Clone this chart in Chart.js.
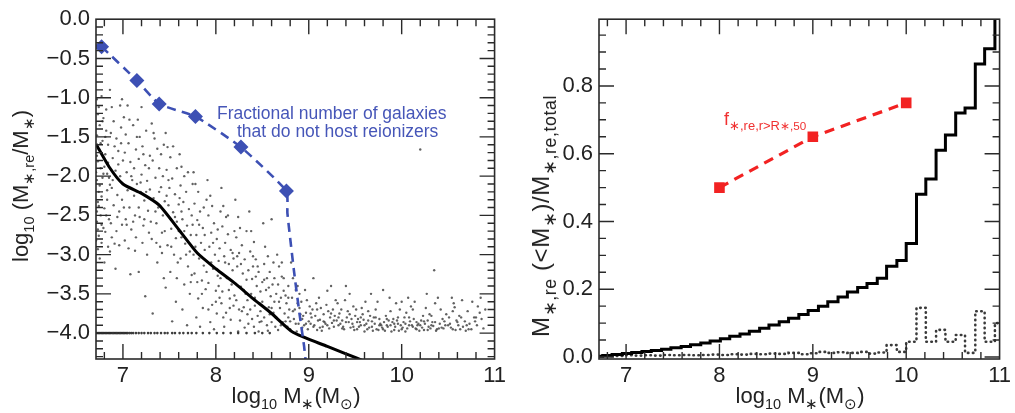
<!DOCTYPE html>
<html>
<head>
<meta charset="utf-8">
<script src="https://cdn.jsdelivr.net/npm/chart.js@4.4.1/dist/chart.umd.min.js"></script>
<style>
  html,body{margin:0;padding:0;background:#fff;}
  #wrap{position:relative;width:1015px;height:413px;overflow:hidden;font-family:'Liberation Sans',Arial,Helvetica,sans-serif;}
  canvas{position:absolute;top:0;}
  .t{position:absolute;white-space:nowrap;color:#222;line-height:1;}
  .sb{font-size:0.66em;position:relative;top:0.38em;}
  .rot{transform:translate(-50%,-50%) rotate(-90deg);transform-origin:center;}
  .ctr{transform:translate(-50%,-50%);}
</style>
</head>
<body>
<div id="wrap">
  <canvas id="left" width="510" height="413" style="left:0;width:510px;height:413px"></canvas>
  <canvas id="right" width="505" height="413" style="left:510px;width:505px;height:413px"></canvas>

  <div class="t rot" style="left:21px;top:186px;font-size:22px;">log<span class="sb">10</span> (M<span class="sb">∗,re</span>/M<span class="sb">∗</span>)</div>
  <div class="t ctr" style="left:296px;top:396px;font-size:22px;">log<span class="sb">10</span> M<span class="sb">∗</span>(M<span class="sb">⊙</span>)</div>
  <div class="t" style="left:217px;top:105px;font-size:17.5px;color:#4656b8;">Fractional number of galaxies</div>
  <div class="t" style="left:237px;top:123px;font-size:17.5px;color:#4656b8;">that do not host reionizers</div>

  <div class="t rot" style="left:541px;top:216px;font-size:24px;letter-spacing:0.6px;">M<span class="sb" style="font-size:0.74em">∗,re</span> (&lt;M<span class="sb" style="font-size:0.74em">∗</span>)/M<span class="sb" style="font-size:0.74em">∗,re,total</span></div>
  <div class="t ctr" style="left:800px;top:396px;font-size:22px;">log<span class="sb">10</span> M<span class="sb">∗</span>(M<span class="sb">⊙</span>)</div>
  <div class="t" style="left:724px;top:110px;font-size:18px;color:#f03030;">f<span class="sb" style="font-size:0.72em">∗,re,r&gt;R<span style="font-size:0.9em">∗,50</span></span></div>
</div>

<script>
// ---------------- DATA ----------------
const xTicks = [7, 8, 9, 10, 11];
const leftYTicks = [0, -0.5, -1, -1.5, -2, -2.5, -3, -3.5, -4];
const rightYTicks = [0, 0.2, 0.4, 0.6, 0.8];

// Left panel: fractional number of galaxies that do not host reionizers (blue dashed)
const fracX = [6.77, 7.15, 7.39, 7.78, 8.27, 8.76, 8.77, 8.84, 8.90, 8.95, 8.97];
const fracY = [-0.35, -0.78, -1.08, -1.24, -1.63, -2.19, -2.47, -3.20, -3.75, -4.17, -4.40];
const fracMarker = [true, true, true, true, true, true, false, false, false, false, false];

// Left panel: median relation (black solid)
const medX = [6.71, 6.85, 7.00, 7.20, 7.39, 7.60, 7.80, 8.00, 8.21, 8.40, 8.60, 8.83, 9.20, 9.52, 9.70];
const medY = [-1.59, -1.88, -2.10, -2.22, -2.37, -2.68, -2.98, -3.18, -3.37, -3.56, -3.75, -3.99, -4.17, -4.32, -4.41];

// Left panel: galaxies at the floor value log = -4.0
const floorY = -4.0;
const floorX = [6.72,6.735,6.75,6.765,6.78,6.795,6.81,6.825,6.84,6.855,6.87,6.885,6.9,6.915,6.93,6.945,6.96,6.975,6.99,7.005,7.02,7.035,7.05,7.07,7.09,7.11,
  7.14,7.17,7.2,7.23,7.27,7.3,7.34,7.37,7.41,7.45,7.48,7.53,7.56,7.61,7.65,7.7,7.74,7.79,7.86,7.93,8.01,8.08,8.16,8.24,8.33,8.42,8.5,8.58];

// Left panel: individual galaxies (gray dots)
const galaxies = [
[6.72,-1.02],[6.73,-1.21],[6.75,-1.35],[6.72,-1.48],[6.78,-1.55],[6.74,-1.66],[6.81,-1.72],[6.73,-1.81],[6.76,-1.9],[6.79,-1.97],[6.72,-2.05],[6.75,-2.12],[6.83,-2.18],[6.77,-2.26],[6.73,-2.33],[6.8,-2.41],[6.76,-2.5],[6.72,-2.58],[6.79,-2.66],[6.74,-2.76],[6.77,-2.85],[6.73,-2.93],[6.82,-1.42],[6.84,-1.6],[6.8,-1.88],[6.85,-2.02],[6.83,-2.3],[6.85,-2.55],[6.82,-1.15],[6.78,-1.3],[6.77,-0.98],[6.84,-1.83],[6.81,-2.71],[6.84,-2.9],[6.75,-3.05],[6.8,-3.1],[6.72,-1.74],[6.74,-2.2],[6.72,-2.45],[6.73,-2.68],
[6.86,-0.9],[6.88,-1.12],[6.9,-1.3],[6.87,-1.45],[6.93,-1.52],[6.95,-1.68],[6.89,-1.77],[6.92,-1.93],[6.97,-2.0],[6.88,-2.15],[6.94,-2.24],[6.9,-2.37],[6.96,-2.45],[6.87,-2.6],[6.93,-2.7],[6.99,-2.62],[6.91,-2.86],[6.98,-1.38],[6.95,-1.85],[6.99,-2.3],[6.86,-2.96],[6.97,-1.1],[6.92,-3.18],[6.99,-1.02],
[7.01,-1.25],[7.03,-1.47],[7.06,-1.58],[7.02,-1.7],[7.08,-1.82],[7.04,-1.95],[7.1,-2.05],[7.05,-2.18],[7.12,-2.25],[7.07,-2.4],[7.13,-2.5],[7.03,-2.55],[7.09,-2.68],[7.14,-2.78],[7.06,-2.92],[7.11,-1.35],[7.14,-1.66],[7.12,-1.9],[7.02,-2.82],[7.08,-3.25],[7.15,-2.1],[7.05,-1.1],
[7.16,-1.28],[7.18,-1.5],[7.21,-1.62],[7.17,-1.78],[7.24,-1.86],[7.2,-1.98],[7.26,-2.06],[7.19,-2.2],[7.23,-2.31],[7.27,-2.44],[7.18,-2.52],[7.22,-2.63],[7.28,-2.72],[7.25,-1.42],[7.29,-1.74],[7.21,-2.85],[7.26,-3.0],[7.17,-3.22],[7.24,-3.53],[7.29,-2.17],[7.2,-1.12],
[7.31,-1.33],[7.34,-1.52],[7.37,-1.65],[7.32,-1.8],[7.39,-1.9],[7.35,-2.02],[7.41,-2.14],[7.33,-2.28],[7.38,-2.4],[7.43,-2.5],[7.36,-2.6],[7.42,-2.72],[7.31,-2.8],[7.4,-2.9],[7.44,-1.6],[7.43,-2.0],[7.37,-3.1],[7.44,-3.3],[7.32,-3.75],[7.45,-2.32],
[7.46,-1.45],[7.48,-1.63],[7.51,-1.76],[7.47,-1.92],[7.53,-2.03],[7.5,-2.15],[7.56,-2.23],[7.49,-2.37],[7.54,-2.46],[7.58,-2.58],[7.52,-2.67],[7.57,-2.79],[7.48,-2.88],[7.55,-3.0],[7.59,-3.1],[7.51,-3.22],[7.58,-1.9],[7.6,-2.36],[7.46,-3.42],[7.57,-3.6],[7.53,-3.85],[7.6,-2.7],
[7.61,-1.72],[7.63,-1.88],[7.66,-2.0],[7.62,-2.12],[7.68,-2.2],[7.65,-2.33],[7.71,-2.42],[7.64,-2.55],[7.69,-2.63],[7.73,-2.75],[7.67,-2.86],[7.72,-2.96],[7.62,-3.05],[7.7,-3.15],[7.74,-3.26],[7.66,-3.38],[7.72,-3.5],[7.64,-3.7],[7.75,-2.1],[7.74,-2.5],[7.69,-3.9],[7.63,-2.78],
[7.76,-1.95],[7.78,-2.1],[7.81,-2.2],[7.77,-2.35],[7.83,-2.45],[7.8,-2.56],[7.86,-2.66],[7.79,-2.75],[7.84,-2.85],[7.88,-2.94],[7.82,-3.05],[7.87,-3.14],[7.77,-3.24],[7.85,-3.33],[7.89,-3.44],[7.81,-3.56],[7.86,-3.68],[7.79,-3.8],[7.9,-2.3],[7.88,-2.75],[7.83,-3.92],[7.76,-3.0],
[7.91,-2.05],[7.94,-2.25],[7.96,-2.38],[7.92,-2.5],[7.98,-2.6],[7.95,-2.72],[8.01,-2.8],[7.93,-2.9],[7.99,-3.0],[8.03,-3.08],[7.97,-3.18],[8.02,-3.27],[7.92,-3.36],[8.0,-3.46],[8.04,-3.55],[7.96,-3.64],[8.01,-3.75],[7.94,-3.86],[8.05,-2.45],[8.04,-2.92],[7.98,-3.95],[8.03,-3.4],
[8.06,-2.15],[8.08,-2.38],[8.11,-2.52],[8.07,-2.64],[8.13,-2.74],[8.1,-2.85],[8.16,-2.94],[8.09,-3.02],[8.14,-3.12],[8.18,-3.2],[8.12,-3.3],[8.17,-3.38],[8.07,-3.47],[8.15,-3.56],[8.19,-3.65],[8.11,-3.74],[8.16,-3.83],[8.09,-3.92],[8.2,-2.7],[8.19,-3.05],[8.14,-3.45],[8.06,-3.62],
[8.21,-2.3],[8.24,-2.52],[8.26,-2.66],[8.22,-2.78],[8.28,-2.88],[8.25,-2.98],[8.31,-3.06],[8.23,-3.15],[8.29,-3.24],[8.33,-3.32],[8.27,-3.41],[8.32,-3.5],[8.22,-3.58],[8.3,-3.67],[8.34,-3.76],[8.26,-3.84],[8.31,-3.93],[8.35,-3.2],[8.34,-3.58],[8.28,-3.72],[8.24,-3.98],
[8.36,-2.45],[8.38,-2.7],[8.41,-2.84],[8.37,-2.96],[8.43,-3.06],[8.4,-3.15],[8.46,-3.22],[8.39,-3.31],[8.44,-3.4],[8.48,-3.47],[8.42,-3.55],[8.47,-3.62],[8.37,-3.7],[8.45,-3.78],[8.49,-3.85],[8.41,-3.92],[8.5,-3.35],[8.48,-3.72],[8.43,-3.28],[8.39,-3.82],[8.46,-3.98],
[8.51,-2.6],[8.53,-2.9],[8.56,-3.02],[8.52,-3.12],[8.58,-3.22],[8.55,-3.3],[8.61,-3.38],[8.54,-3.45],[8.59,-3.53],[8.63,-3.6],[8.57,-3.67],[8.62,-3.74],[8.52,-3.8],[8.6,-3.86],[8.64,-3.92],[8.56,-3.97],[8.65,-3.5],[8.6,-2.55],[8.63,-3.3],[8.58,-3.76],
[8.66,-3.0],[8.68,-3.15],[8.71,-3.28],[8.67,-3.38],[8.73,-3.46],[8.7,-3.55],[8.76,-3.62],[8.69,-3.68],[8.74,-3.75],[8.78,-3.8],[8.72,-3.86],[8.77,-3.92],[8.67,-3.96],[8.75,-3.52],[8.79,-3.7],[8.8,-3.85],[8.71,-3.1],[8.78,-3.4],
[8.81,-3.1],[8.83,-3.3],[8.86,-3.45],[8.82,-3.55],[8.88,-3.62],[8.85,-3.7],[8.91,-3.76],[8.84,-3.82],[8.89,-3.88],[8.93,-3.93],[8.87,-3.98],[8.92,-3.6],[8.94,-3.78],[8.9,-3.5],[8.95,-3.9],
[8.96,-3.45],[8.98,-3.58],[9.01,-3.66],[8.97,-3.74],[9.03,-3.8],[9.0,-3.85],[9.06,-3.9],[8.99,-3.95],[9.04,-3.7],[9.08,-3.62],[9.02,-3.88],[9.07,-3.78],[9.09,-3.96],[9.05,-3.3],[9.1,-3.84],
[9.11,-3.55],[9.13,-3.68],[9.16,-3.76],[9.12,-3.83],[9.18,-3.88],[9.15,-3.92],[9.21,-3.72],[9.14,-3.97],[9.19,-3.64],[9.23,-3.8],[9.17,-3.86],[9.22,-3.94],[9.26,-3.7],[9.25,-3.87],[9.28,-3.78],[9.27,-3.92],[9.24,-3.4],[9.29,-3.58],[9.2,-3.46],[9.3,-3.84],
[9.31,-3.62],[9.33,-3.75],[9.36,-3.84],[9.32,-3.9],[9.38,-3.95],[9.35,-3.7],[9.41,-3.8],[9.34,-3.88],[9.39,-3.58],[9.43,-3.86],[9.37,-3.92],[9.42,-3.72],[9.46,-3.82],[9.45,-3.93],[9.48,-3.66],[9.47,-3.88],[9.44,-3.5],[9.49,-3.96],[9.4,-3.4],[9.5,-3.78],
[9.51,-3.7],[9.53,-3.82],[9.56,-3.9],[9.52,-3.95],[9.58,-3.76],[9.55,-3.86],[9.61,-3.6],[9.54,-3.92],[9.59,-3.83],[9.63,-3.95],[9.57,-3.68],[9.62,-3.88],[9.66,-3.78],[9.65,-3.93],[9.68,-3.85],[9.67,-3.5],[9.64,-3.72],[9.69,-3.97],[9.6,-3.98],[9.7,-3.8],
[9.71,-3.88],[9.73,-3.95],[9.76,-3.82],[9.72,-3.7],[9.78,-3.9],[9.75,-3.96],[9.81,-3.86],[9.74,-3.6],[9.79,-3.93],[9.83,-3.78],[9.77,-3.88],[9.82,-3.97],[9.86,-3.84],[9.85,-3.92],[9.88,-3.72],[9.87,-3.55],[9.84,-3.9],[9.89,-3.98],[9.8,-3.45],[9.9,-3.86],
[9.91,-3.82],[9.93,-3.92],[9.96,-3.88],[9.92,-3.96],[9.98,-3.7],[9.95,-3.84],[10.01,-3.93],[9.94,-3.62],[9.99,-3.9],[10.03,-3.8],[9.97,-3.97],[10.02,-3.86],[10.06,-3.94],[10.05,-3.74],[10.08,-3.9],[10.07,-3.55],[10.04,-3.98],[10.09,-3.85],[10.1,-3.66],[10.0,-3.6],
[10.11,-3.9],[10.13,-3.82],[10.16,-3.95],[10.12,-3.7],[10.18,-3.88],[10.15,-3.94],[10.21,-3.84],[10.14,-3.6],[10.19,-3.97],[10.23,-3.78],[10.17,-3.9],[10.22,-3.93],[10.26,-3.68],[10.25,-3.88],[10.28,-3.96],[10.27,-3.5],[10.24,-3.85],[10.29,-3.92],[10.2,-1.66],[10.3,-3.76],
[10.31,-3.94],[10.33,-3.86],[10.36,-3.62],[10.32,-3.78],[10.38,-3.95],[10.35,-3.2],[10.41,-3.88],[10.34,-3.91],[10.39,-3.55],[10.43,-3.93],[10.37,-3.97],[10.42,-3.7],[10.46,-3.85],[10.45,-3.94],[10.48,-3.76],[10.47,-3.9],
[10.51,-3.8],[10.53,-3.93],[10.56,-3.62],[10.52,-3.88],[10.58,-3.96],[10.55,-3.72],[10.61,-3.9],[10.54,-3.55],[10.59,-3.84],[10.63,-3.95],[10.57,-3.67],[10.62,-3.78],[10.66,-3.92],[10.65,-3.58],[10.68,-3.85],[10.69,-3.97],
[10.71,-3.72],[10.73,-3.88],[10.76,-3.6],[10.72,-3.95],[10.78,-3.8],[10.82,-3.66],[10.81,-3.9],[10.84,-3.74],[10.86,-3.82],[10.88,-3.94],[10.85,-3.55],[10.9,-3.7],[10.79,-3.85],
[6.74,-1.12],[6.76,-1.58],[6.71,-1.95],[6.78,-2.02],[6.74,-2.38],[6.77,-2.62],[6.71,-2.82],[6.79,-1.26],[6.81,-1.5],[6.83,-1.97],[6.86,-2.11],[6.82,-2.5],[6.88,-2.78],[6.91,-1.62],[6.89,-2.05],[6.94,-2.52],[6.96,-2.88],[6.98,-1.58],[7.0,-1.8],[7.01,-2.4],
[7.04,-2.62],[7.07,-1.28],[7.09,-2.0],[7.11,-2.58],[7.13,-2.95],[7.15,-1.5],[7.17,-2.4],[7.19,-2.08],[7.22,-1.72],[7.23,-2.55],[7.25,-2.2],[7.28,-1.9],[7.3,-2.58],[7.33,-1.45],[7.35,-2.45],[7.36,-2.85],[7.39,-2.2],[7.41,-1.72],[7.42,-2.98],[7.45,-2.7],
[7.47,-2.25],[7.49,-2.05],[7.52,-2.9],[7.54,-1.62],[7.56,-2.52],[7.58,-3.3],[7.61,-2.28],[7.63,-2.45],[7.66,-2.7],[7.68,-3.0],[7.7,-1.95],[7.73,-3.35],[7.75,-2.62],[7.78,-2.9],[7.8,-3.35],[7.82,-2.62],[7.85,-3.5],[7.87,-2.4],[7.9,-3.22],[7.92,-3.7],
[7.95,-3.1],[7.97,-2.85],[8.0,-3.6],[8.02,-2.68],[8.05,-3.3],[8.08,-3.8],[8.1,-3.1],[8.13,-2.5],[8.15,-3.68],[8.18,-2.98],[8.2,-3.52],[8.23,-3.02],[8.25,-3.7],[8.27,-3.12],[8.3,-3.45],[8.33,-2.7],[8.35,-3.88],[8.38,-3.5],[8.4,-3.02],[8.42,-3.65],
[8.45,-3.15],[8.47,-3.86],[8.5,-3.6],[8.52,-3.32],[8.55,-3.9],[8.57,-3.42],[8.6,-3.68],[8.62,-3.1],[8.65,-3.8],[8.68,-3.6],[8.7,-3.9],[8.73,-3.3],[8.75,-3.85],[8.78,-3.55],[8.8,-3.95],[8.83,-3.72],[8.86,-3.88],[8.88,-3.4],[8.9,-3.68],[8.93,-3.82],
[8.97,-3.88],[9.02,-3.75],[9.05,-3.92],[9.09,-3.7],[9.12,-3.93],[9.16,-3.85],[9.2,-3.9],[9.24,-3.75],[9.27,-3.84],[9.32,-3.8],[9.36,-3.94],[9.4,-3.86],[9.44,-3.76],[9.48,-3.92],[9.52,-3.86],[9.56,-3.8],[9.6,-3.9],[9.64,-3.84],[9.68,-3.92],[9.72,-3.8],
[9.76,-3.9],[9.8,-3.95],[9.84,-3.82],[9.88,-3.9],[9.92,-3.88],[9.96,-3.8],[10.0,-3.95],[10.04,-3.88],[10.08,-3.8],[10.12,-3.92],[10.16,-3.86],[10.2,-3.9],[10.24,-3.96],[10.28,-3.84],[10.32,-3.9],[10.36,-3.86],[10.4,-3.94],[10.44,-3.82],[10.5,-3.9],[10.55,-3.95],
[10.6,-3.86],[10.64,-3.8],[10.7,-3.9],[10.75,-3.95],[10.8,-3.8]
];

// Right panel: bin edges (log10 M*) and cumulative fractions
const binEdges = [6.64,6.75,6.85,6.96,7.06,7.17,7.27,7.38,7.48,7.59,7.69,7.80,7.90,8.01,8.11,8.22,8.32,8.43,8.53,8.64,8.74,8.85,8.95,9.06,9.16,9.27,9.37,9.48,9.58,9.69,9.79,9.90,10.00,10.11,10.21,10.32,10.42,10.53,10.63,10.74,10.84,10.95,11.05];
const cumFrac = [0.002,0.004,0.007,0.010,0.013,0.016,0.019,0.023,0.027,0.031,0.036,0.041,0.047,0.054,0.061,0.068,0.076,0.085,0.094,0.104,0.114,0.125,0.137,0.150,0.163,0.177,0.192,0.205,0.217,0.232,0.268,0.285,0.335,0.48,0.525,0.61,0.655,0.72,0.735,0.865,0.91,1.0];
const binFrac = [0.003,0.004,0.003,0.005,0.004,0.005,0.004,0.006,0.005,0.006,0.005,0.006,0.007,0.006,0.008,0.007,0.009,0.008,0.010,0.009,0.012,0.008,0.011,0.015,0.012,0.014,0.012,0.015,0.010,0.013,0.035,0.015,0.045,0.145,0.045,0.080,0.045,0.065,0.012,0.135,0.045,0.100];

// Right panel: f*,re,r>R*,50 (red dashed)
const fOutX = [8, 9, 10];
const fOutY = [0.50, 0.65, 0.75];

// ---------------- CHARTS ----------------
Chart.defaults.font.family = "'Liberation Sans', Arial, Helvetica, sans-serif";
Chart.defaults.color = '#222';

const fmtY = v => (Math.abs(v) < 1e-9 ? '0.0' : v.toFixed(1).replace('-', '\u2212'));

const frameTicks = {
  id: 'frameTicks',
  afterDatasetsDraw(chart, args, o) {
    const {ctx, chartArea: a} = chart;
    const xs = chart.scales.x, ys = chart.scales.y;
    ctx.save();
    ctx.strokeStyle = '#2a2a2a';
    ctx.lineWidth = 1.4;
    ctx.beginPath();
    for (let k = o.xk[0]; k <= o.xk[1]; k++) {
      const v = k / o.xd, p = xs.getPixelForValue(v);
      if (p < a.left + 1 || p > a.right - 1) continue;
      const L = (k % o.xm === 0) ? 15 : 7;
      ctx.moveTo(p, a.bottom); ctx.lineTo(p, a.bottom - L);
      ctx.moveTo(p, a.top); ctx.lineTo(p, a.top + L);
    }
    for (let k = o.yk[0]; k <= o.yk[1]; k++) {
      const v = k / o.yd, p = ys.getPixelForValue(v);
      if (p < a.top + 1 || p > a.bottom - 1) continue;
      const L = (k % o.ym === 0) ? 15 : 7;
      ctx.moveTo(a.left, p); ctx.lineTo(a.left + L, p);
      ctx.moveTo(a.right, p); ctx.lineTo(a.right - L, p);
    }
    ctx.stroke();
    ctx.lineWidth = 1.6;
    ctx.strokeRect(a.left, a.top, a.right - a.left, a.bottom - a.top);
    ctx.restore();
  }
};

function xScale() {
  return {
    type: 'linear', min: 6.71, max: 11.0,
    grid: {display: false, drawTicks: false},
    border: {display: false},
    afterBuildTicks: s => { s.ticks = xTicks.map(v => ({value: v})); },
    afterFit: s => { s.height = 54; },
    ticks: {font: {size: 22}, color: '#222', padding: 4, maxRotation: 0, autoSkip: false, callback: v => String(v)}
  };
}

const galaxyPts = galaxies.map(p => ({x: p[0], y: p[1]}));
const floorPts = floorX.map(x => ({x, y: floorY}));

new Chart(document.getElementById('left'), {
  type: 'scatter',
  data: {
    datasets: [
      {
        type: 'line',
        data: fracX.map((x, i) => ({x, y: fracY[i]})),
        borderColor: '#3d50b4', borderWidth: 2.6, borderDash: [9, 6],
        pointStyle: 'rectRot',
        pointRadius: fracMarker.map(m => m ? 7.5 : 0),
        pointBackgroundColor: '#3d50b4', pointBorderColor: '#3d50b4', pointBorderWidth: 0,
        tension: 0.15, fill: false
      },
      {
        type: 'line',
        data: medX.map((x, i) => ({x, y: medY[i]})),
        borderColor: '#000', borderWidth: 3, pointRadius: 0, tension: 0.2, fill: false
      },
      {
        data: floorPts, pointRadius: 1.3, pointBackgroundColor: 'rgba(40,40,40,0.9)', pointBorderWidth: 0
      },
      {
        data: galaxyPts, pointRadius: 1.2, pointBackgroundColor: 'rgba(70,70,70,0.85)', pointBorderWidth: 0
      }
    ]
  },
  options: {
    responsive: false, animation: false, devicePixelRatio: 1,
    layout: {padding: {left: 0, top: 18, right: 10, bottom: 0}},
    plugins: {
      legend: {display: false}, tooltip: {enabled: false},
      frameTicks: {xk: [34, 55], xd: 5, xm: 5, yk: [-43, 0], yd: 10, ym: 5}
    },
    scales: {
      x: xScale(),
      y: {
        type: 'linear', min: -4.33, max: 0.0,
        grid: {display: false, drawTicks: false},
        border: {display: false},
        afterBuildTicks: s => { s.ticks = leftYTicks.map(v => ({value: v})); },
        afterFit: s => { s.width = 96; },
        ticks: {font: {size: 22}, color: '#222', padding: 6, autoSkip: false, callback: fmtY}
      }
    }
  },
  plugins: [frameTicks]
});

const n = cumFrac.length;
const cumPts = cumFrac.map((v, i) => ({x: binEdges[i], y: v}));
cumPts.push({x: binEdges[n], y: cumFrac[n - 1]});
const binPts = binFrac.map((v, i) => ({x: binEdges[i], y: v}));
binPts.push({x: binEdges[n], y: binFrac[n - 1]});

new Chart(document.getElementById('right'), {
  type: 'line',
  data: {
    datasets: [
      {
        data: fOutX.map((x, i) => ({x, y: fOutY[i]})),
        borderColor: '#f22222', borderWidth: 3.2, borderDash: [10, 7],
        pointStyle: 'rect', pointRadius: 7.5,
        pointBackgroundColor: '#f22222', pointBorderWidth: 0, fill: false
      },
      {
        data: cumPts, stepped: 'before',
        borderColor: '#000', borderWidth: 3, pointRadius: 0, fill: false
      },
      {
        data: binPts, stepped: 'before',
        borderColor: '#3a3a3a', borderWidth: 2.6, borderDash: [0.5, 4.5], borderCapStyle: 'round',
        pointRadius: 0, fill: false
      }
    ]
  },
  options: {
    responsive: false, animation: false, devicePixelRatio: 1,
    layout: {padding: {left: 0, top: 18, right: 13, bottom: 0}},
    plugins: {
      legend: {display: false}, tooltip: {enabled: false},
      frameTicks: {xk: [34, 55], xd: 5, xm: 5, yk: [0, 19], yd: 20, ym: 4}
    },
    scales: {
      x: xScale(),
      y: {
        type: 'linear', min: -0.006, max: 0.997,
        grid: {display: false, drawTicks: false},
        border: {display: false},
        afterBuildTicks: s => { s.ticks = rightYTicks.map(v => ({value: v})); },
        afterFit: s => { s.width = 89; },
        ticks: {font: {size: 22}, color: '#222', padding: 6, autoSkip: false, callback: fmtY}
      }
    }
  },
  plugins: [frameTicks]
});
</script>
</body>
</html>
